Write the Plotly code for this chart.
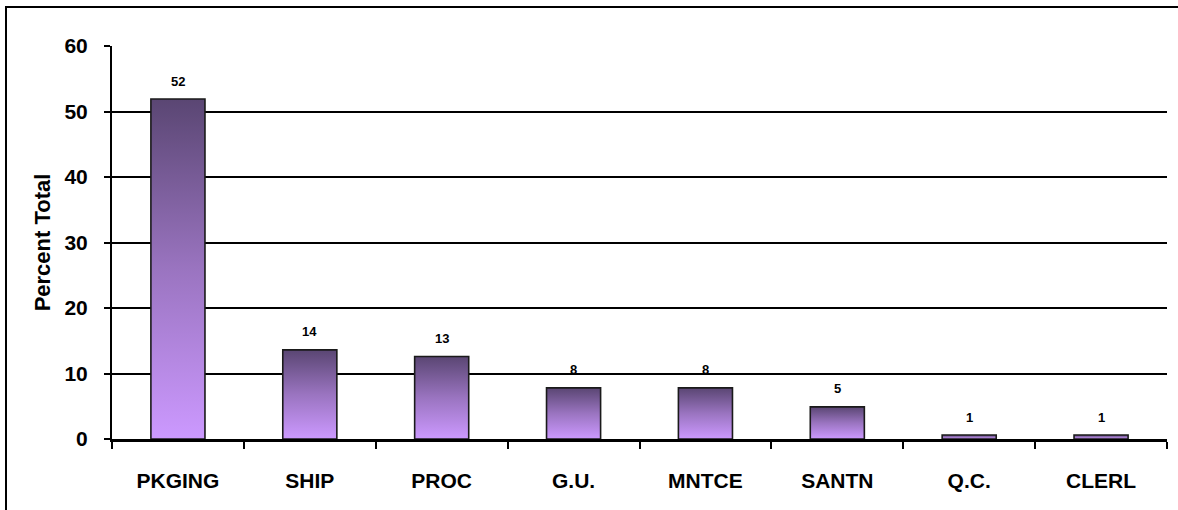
import plotly.graph_objects as go

categories = ["PKGING", "SHIP", "PROC", "G.U.", "MNTCE", "SANTN", "Q.C.", "CLERL"]
values = [51.9, 13.6, 12.6, 7.8, 7.8, 4.9, 0.6, 0.6]
labels = ["52", "14", "13", "8", "8", "5", "1", "1"]
y_ticks = [0, 10, 20, 30, 40, 50, 60]

BAR_W = 0.41
FONT = "Liberation Sans, Arial, sans-serif"
TOP_COLOR = "#5a4673"
BOTTOM_COLOR = "#cc99ff"

fig = go.Figure()

# invisible bars define the category axis
fig.add_trace(go.Bar(x=categories, y=values, marker=dict(opacity=0),
                     hoverinfo="skip", showlegend=False, xaxis="x", yaxis="y"))

# gradient-filled bars drawn as filled polygons on an overlaid numeric axis
for i, v in enumerate(values):
    x0, x1 = i - BAR_W / 2, i + BAR_W / 2
    fig.add_trace(go.Scatter(
        x=[x0, x0, x1, x1, x0], y=[0, v, v, 0, 0],
        mode="lines", fill="toself",
        line=dict(color="#1a1a1a", width=1.6),
        fillgradient=dict(type="vertical",
                          colorscale=[[0, BOTTOM_COLOR], [0.5, "#9a74c0"], [1, TOP_COLOR]]),
        hoverinfo="skip", showlegend=False, xaxis="x2", yaxis="y"))

annotations = []
for i, (v, t) in enumerate(zip(values, labels)):
    annotations.append(dict(x=i, y=v, xref="x2", yref="y", text=f"<b>{t}</b>",
                            showarrow=False, yshift=18,
                            font=dict(family=FONT, size=13, color="black")))

fig.update_layout(
    width=1178, height=510,
    margin=dict(l=112, r=11, t=46, b=71),
    paper_bgcolor="white", plot_bgcolor="white",
    showlegend=False,
    bargap=0.6,
    annotations=annotations,
    xaxis=dict(type="category", categoryorder="array", categoryarray=categories,
               range=[-0.5, 7.5], tickson="boundaries", ticks="outside",
               ticklen=7, tickwidth=2, tickcolor="black",
               showline=True, linecolor="black", linewidth=3,
               showgrid=False, zeroline=False,
               ticklabelstandoff=21,
               tickfont=dict(family=FONT, size=21, color="black", weight="bold")),
    xaxis2=dict(overlaying="x", anchor="y", range=[-0.5, 7.5], visible=False,
                showgrid=False, zeroline=False),
    yaxis=dict(range=[0, 60], tickvals=y_ticks, ticks="outside", ticklen=6,
               tickwidth=1.5, tickcolor="black",
               showline=True, linecolor="black", linewidth=2,
               showgrid=True, gridcolor="black", gridwidth=1.5,
               zeroline=False,
               ticklabelstandoff=12,
               tickfont=dict(family=FONT, size=21, color="black", weight="bold"),
               title=dict(text="<b>Percent Total</b>", standoff=8,
                          font=dict(family=FONT, size=22, color="black"))),
    shapes=[
        dict(type="rect", xref="paper", yref="paper",
             x0=(6 - 112) / 1055, x1=(1185 - 112) / 1055,
             y0=(439 - 520) / 393, y1=(439 - 7) / 393,
             line=dict(color="black", width=2), fillcolor="rgba(0,0,0,0)"),
        dict(type="line", xref="paper", yref="paper",
             x0=0, x1=0, y0=0, y1=-5 / 393,
             line=dict(color="black", width=2)),
    ],
)

fig.write_html("out.html")
